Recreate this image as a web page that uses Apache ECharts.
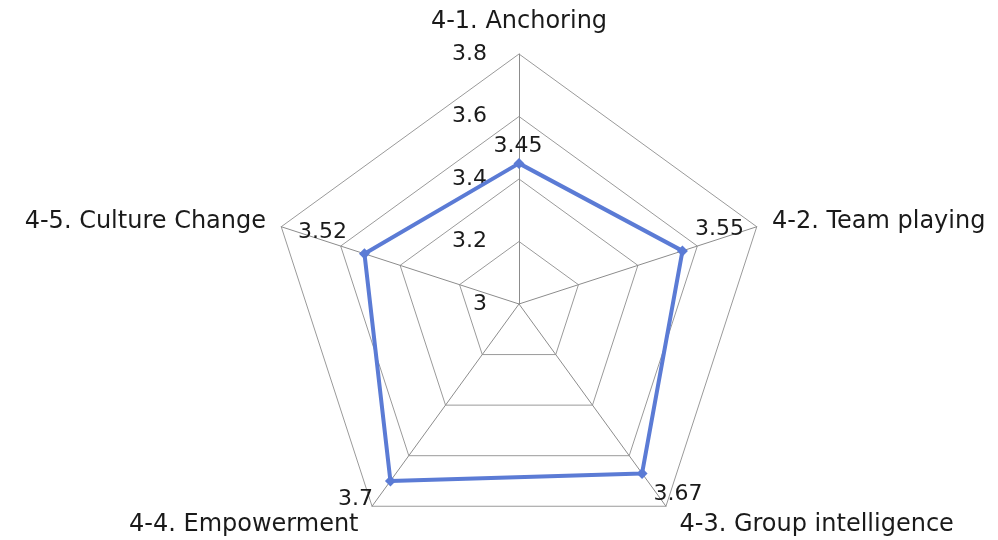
<!DOCTYPE html>
<html>
<head>
<meta charset="utf-8">
<script src="https://cdn.jsdelivr.net/npm/echarts@6/dist/echarts.min.js"></script>
<style>
  html, body { margin: 0; padding: 0; background: #fff; }
  #chart { width: 998px; height: 540px; }
</style>
</head>
<body>
<div id="chart"></div>
<script>
  // 지표 / 값 (시계방향)
  const indicators = ["4-1. Anchoring", "4-2. Team playing", "4-3. Group intelligence", "4-4. Empowerment", "4-5. Culture Change"];
  const scores = [3.45, 3.55, 3.67, 3.7, 3.52];
  const axisMin = 3;
  const axisMax = 3.8;

  // echarts 레이더는 반시계방향이라 순서를 바꿈
  const order = [0, 4, 3, 2, 1];
  const nameGaps = [20, 16, 23, 23, 16];
  const labelPos = [
    { position: "top", offset: [-1, -1] },
    { position: "top", offset: [37, -5] },
    { position: "bottom", offset: [36, 4] },
    { position: "bottom", offset: [-35, 2] },
    { position: "top", offset: [-42, -5] }
  ];

  const font = "'DejaVu Sans', sans-serif";
  const ordered = order.map(function(i) { return scores[i]; });

  var myChart = echarts.init(document.getElementById("chart"));
  myChart.setOption({
    animation: false,
    radar: {
      center: [519, 304],
      radius: 250,
      startAngle: 90,
      splitNumber: 4,
      shape: "polygon",
      indicator: order.map(function(i, k) {
        let item = { name: indicators[i], min: axisMin, max: axisMax, nameGap: nameGaps[i] };
        if (k == 0) {
          item.axisLabel = {
            show: true,
            margin: 32,
            color: "#1a1a1a",
            fontSize: 22,
            fontFamily: font,
            formatter: function(v) {
              return +v.toFixed(1) + "";
            }
          };
        }
        return item;
      }),
      nameGap: 16,
      axisName: {
        color: "#1a1a1a",
        fontSize: 24,
        fontFamily: font
      },
      axisLabel: { show: false },
      axisTick: { show: false },
      axisLine: { lineStyle: { color: "#8c8c8c", width: 1 } },
      splitLine: { lineStyle: { color: "#9a9a9a", width: 1 } },
      splitArea: { show: false }
    },
    series: [
      {
        type: "radar",
        symbol: "diamond",
        symbolSize: 11,
        lineStyle: { color: "#5b7bd5", width: 4 },
        itemStyle: { color: "#5b7bd5" },
        data: [{ value: ordered }]
      },
      {
        // 값 라벨만
        type: "radar",
        symbol: "circle",
        symbolSize: 1,
        lineStyle: { opacity: 0 },
        itemStyle: { color: "rgba(0,0,0,0)" },
        silent: true,
        data: scores.map(function(s, i) {
          return {
            value: ordered,
            label: {
              show: true,
              position: labelPos[i].position,
              offset: labelPos[i].offset,
              color: "#1a1a1a",
              fontSize: 22,
              fontFamily: font,
              formatter: function(p) {
                return p.value === s ? String(s) : "";
              }
            }
          };
        })
      }
    ]
  });
</script>
</body>
</html>
